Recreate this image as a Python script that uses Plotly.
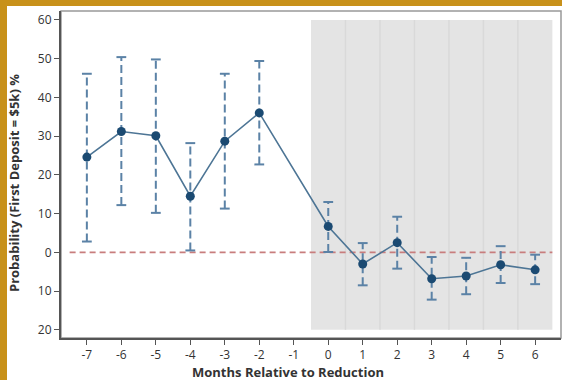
import plotly.graph_objects as go

months = [-7, -6, -5, -4, -3, -2, 0, 1, 2, 3, 4, 5, 6]
estimate = [24.6, 31.2, 30.1, 14.5, 28.7, 36.0, 6.7, -3.0, 2.5, -6.8, -6.1, -3.2, -4.5]
ci_low = [2.8, 12.2, 10.2, 0.5, 11.3, 22.7, 0.1, -8.5, -4.2, -12.2, -10.8, -7.9, -8.2]
ci_high = [46.1, 50.4, 49.8, 28.2, 46.1, 49.4, 13.0, 2.4, 9.2, -1.2, -1.4, 1.6, -0.6]

x_ticks = [-7, -6, -5, -4, -3, -2, -1, 0, 1, 2, 3, 4, 5, 6]
x_ticktext = ["-7", "-6", "-5", "-4", "-3", "-2", "-1", "0", "1", "2", "3", "4", "5", "6"]
y_ticks = [60, 50, 40, 30, 20, 10, 0, -10, -20]
y_ticktext = ["60", "50", "40", "30", "20", "10", "0", "10", "20"]
post_months = [0, 1, 2, 3, 4, 5, 6]
x_title = "Months Relative to Reduction"
y_title = "Probability (First Deposit = $5k) %"

W, H = 562, 380
ML, MR, MT, MB = 61, 1, 11, 42
PW, PH = W - ML - MR, H - MT - MB

def px2x(px):
    return (px - ML) / PW

def py2y(py):
    return (H - MB - py) / PH

ERR = "#5B82A6"
LINE = "#4D7595"
MARK = "#1B4A72"
ORANGE = "#C8911A"

fig = go.Figure()

ex, ey = [], []
for m, lo, hi in zip(months, ci_low, ci_high):
    ex += [m, m, None]
    ey += [lo, hi, None]
fig.add_trace(go.Scatter(x=ex, y=ey, mode="lines",
                         line=dict(color=ERR, width=2, dash="8px,4px"),
                         hoverinfo="skip", showlegend=False))
fig.add_trace(go.Scatter(x=months + months, y=ci_low + ci_high, mode="markers",
                         marker=dict(symbol="line-ew-open", size=7, color=ERR,
                                     line=dict(color=ERR, width=2)),
                         hoverinfo="skip", showlegend=False))
fig.add_trace(go.Scatter(x=months, y=estimate, mode="lines+markers",
                         line=dict(color=LINE, width=1.6),
                         marker=dict(color=MARK, size=9),
                         showlegend=False))

shapes = []
shapes.append(dict(type="rect", xref="x", yref="y",
                   x0=post_months[0] - 0.5, x1=post_months[-1] + 0.5, y0=-20, y1=60,
                   fillcolor="#E4E4E4", line=dict(width=0), layer="below"))
for m in post_months[:-1]:
    shapes.append(dict(type="line", xref="x", yref="y", x0=m + 0.5, x1=m + 0.5,
                       y0=-20, y1=60, line=dict(color="#D9D9D9", width=1.5), layer="below"))
shapes.append(dict(type="line", xref="x", yref="y", x0=-7.5, x1=6.5, y0=0, y1=0,
                   line=dict(color="#C87D7D", width=1.6, dash="6px,4px"), layer="below"))
shapes.append(dict(type="rect", xref="paper", yref="paper", x0=0, x1=1, y0=0, y1=1,
                   line=dict(color="#999999", width=1.5), layer="below"))
shapes.append(dict(type="rect", xref="paper", yref="paper",
                   x0=px2x(0), x1=px2x(W), y0=py2y(6), y1=py2y(0),
                   fillcolor=ORANGE, line=dict(width=0)))
shapes.append(dict(type="rect", xref="paper", yref="paper",
                   x0=px2x(0), x1=px2x(7), y0=py2y(H), y1=py2y(0),
                   fillcolor=ORANGE, line=dict(width=0)))

annotations = [
    dict(text="<b>" + x_title + "</b>", xref="paper", yref="paper",
         x=px2x(288), y=py2y(372), xanchor="center", yanchor="middle", showarrow=False,
         font=dict(family="Open Sans", size=13, color="#333333")),
    dict(text="<b>" + y_title + "</b>", xref="paper", yref="paper",
         x=px2x(14), y=py2y(183), xanchor="center", yanchor="middle", showarrow=False,
         textangle=-90, font=dict(family="Open Sans", size=13, color="#333333")),
]

fig.update_layout(
    width=W, height=H,
    margin=dict(l=ML, r=MR, t=MT, b=MB, autoexpand=False),
    paper_bgcolor="white", plot_bgcolor="white",
    shapes=shapes, annotations=annotations,
    font=dict(family="Open Sans", color="#333333", size=12),
)
fig.update_xaxes(range=[-7.75, 6.75], tickvals=x_ticks, ticktext=x_ticktext,
                 showgrid=False, zeroline=False, showline=True, linecolor="#555555",
                 linewidth=2, ticks="outside", ticklen=5, tickcolor="#555555",
                 tickfont=dict(size=12, color="#333333"), automargin=False)
fig.update_yaxes(range=[-22.1, 62.3], tickvals=y_ticks, ticktext=y_ticktext,
                 showgrid=False, zeroline=False, showline=True, linecolor="#555555",
                 linewidth=2, ticks="outside", ticklen=5, tickcolor="#555555",
                 tickfont=dict(size=12, color="#333333"), automargin=False)

fig.write_html("out.html", config={"displayModeBar": False},
               post_script="document.body.style.margin='0';document.body.style.overflow='hidden';")
